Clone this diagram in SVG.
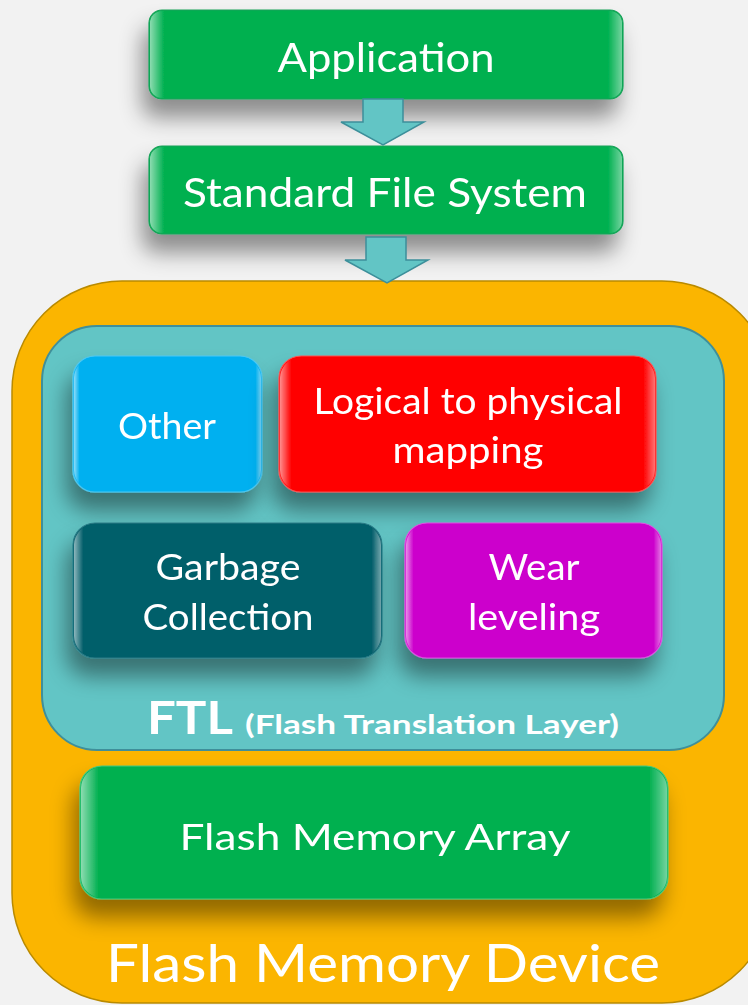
<svg xmlns="http://www.w3.org/2000/svg" width="748" height="1005" viewBox="0 0 748 1005">
<defs>
<filter id="sh" x="-25%" y="-30%" width="150%" height="190%">
<feDropShadow dx="-6" dy="18" stdDeviation="11" flood-color="#000" flood-opacity="0.42"/>
</filter>
<linearGradient id="gloss" x1="0" y1="0" x2="1" y2="0">
<stop offset="0" stop-color="#fff" stop-opacity="0.55"/>
<stop offset="0.03" stop-color="#fff" stop-opacity="0"/>
<stop offset="0.97" stop-color="#fff" stop-opacity="0"/>
<stop offset="1" stop-color="#fff" stop-opacity="0.45"/>
</linearGradient>
</defs>
<style>
.t{font-family:Lato,"Open Sans","Liberation Sans",sans-serif;fill:#fff;text-anchor:middle}
.b{stroke-width:1.2}
.gl{fill:url(#gloss)}
.arr{fill:#62c5c5;stroke:#3c8f9a;stroke-width:1.5}
</style>
<rect width="748" height="1005" fill="#f2f2f2"/>

<g id="device">
<rect x="12" y="281" width="760" height="722" rx="110" fill="#fbb500" stroke="#b98a00" stroke-width="1.5"/>
<text class="t" x="383" y="982" font-size="52" textLength="554" lengthAdjust="spacingAndGlyphs">Flash Memory Device</text>
</g>

<g id="ftl">
<rect x="42" y="326" width="682" height="424" rx="55" fill="#62c5c5" stroke="#3f8f9a" stroke-width="2"/>
<text class="t" x="383" y="734"><tspan font-size="46" font-weight="bold" textLength="86" lengthAdjust="spacingAndGlyphs">FTL</tspan><tspan font-size="27" font-weight="bold" dx="12" textLength="374" lengthAdjust="spacingAndGlyphs">(Flash Translation Layer)</tspan></text>
</g>

<g id="application" filter="url(#sh)">
<rect x="149" y="10" width="474" height="89" rx="13" fill="#00b050" stroke="#17a058" class="b"/>
<rect x="150" y="11" width="472" height="87" rx="12" class="gl"/>
<text class="t" x="386" y="72" font-size="41" textLength="217" lengthAdjust="spacingAndGlyphs">Application</text>
</g>

<g id="fs" filter="url(#sh)">
<rect x="149" y="146" width="474" height="88" rx="13" fill="#00b050" stroke="#17a058" class="b"/>
<rect x="150" y="147" width="472" height="86" rx="12" class="gl"/>
<text class="t" x="385" y="207" font-size="41" textLength="404" lengthAdjust="spacingAndGlyphs">Standard File System</text>
</g>

<g id="other" filter="url(#sh)">
<rect x="73" y="356" width="189" height="136" rx="22" fill="#00b0f0" stroke="#4cc8f4" class="b"/>
<rect x="74" y="357" width="187" height="134" rx="21" class="gl"/>
<text class="t" x="167" y="439" font-size="37" textLength="98" lengthAdjust="spacingAndGlyphs">Other</text>
</g>

<g id="mapping" filter="url(#sh)">
<rect x="279" y="356" width="377" height="136" rx="22" fill="#ff0000" stroke="#ff5050" class="b"/>
<rect x="280" y="357" width="375" height="134" rx="21" class="gl"/>
<text class="t" x="468" y="414" font-size="37" textLength="309" lengthAdjust="spacingAndGlyphs">Logical to physical</text>
<text class="t" x="468" y="463" font-size="37" textLength="151" lengthAdjust="spacingAndGlyphs">mapping</text>
</g>

<g id="gc" filter="url(#sh)">
<rect x="73" y="523" width="309" height="135" rx="22" fill="#025e6a" stroke="#2a7b86" class="b"/>
<rect x="74" y="524" width="307" height="133" rx="21" class="gl"/>
<text class="t" x="228" y="580" font-size="37" textLength="145" lengthAdjust="spacingAndGlyphs">Garbage</text>
<text class="t" x="228" y="630" font-size="37" textLength="171" lengthAdjust="spacingAndGlyphs">Collection</text>
</g>

<g id="wear" filter="url(#sh)">
<rect x="405" y="523" width="257" height="135" rx="22" fill="#cc00cc" stroke="#e050e0" class="b"/>
<rect x="406" y="524" width="255" height="133" rx="21" class="gl"/>
<text class="t" x="534" y="580" font-size="37" textLength="91" lengthAdjust="spacingAndGlyphs">Wear</text>
<text class="t" x="534" y="630" font-size="37" textLength="132" lengthAdjust="spacingAndGlyphs">leveling</text>
</g>

<g id="array" filter="url(#sh)">
<rect x="80" y="766" width="588" height="133" rx="22" fill="#00b050" stroke="#40c880" class="b"/>
<rect x="81" y="767" width="586" height="131" rx="21" class="gl"/>
<text class="t" x="375" y="850" font-size="37" textLength="391" lengthAdjust="spacingAndGlyphs">Flash Memory Array</text>
</g>

<g id="connectors">
<polygon class="arr" points="363,99 403,99 403,122 424,122 383,145 341,122 363,122"/>
<polygon class="arr" points="366,237 406,237 406,260 428,260 387,283 345,260 366,260"/>
</g>
</svg>
